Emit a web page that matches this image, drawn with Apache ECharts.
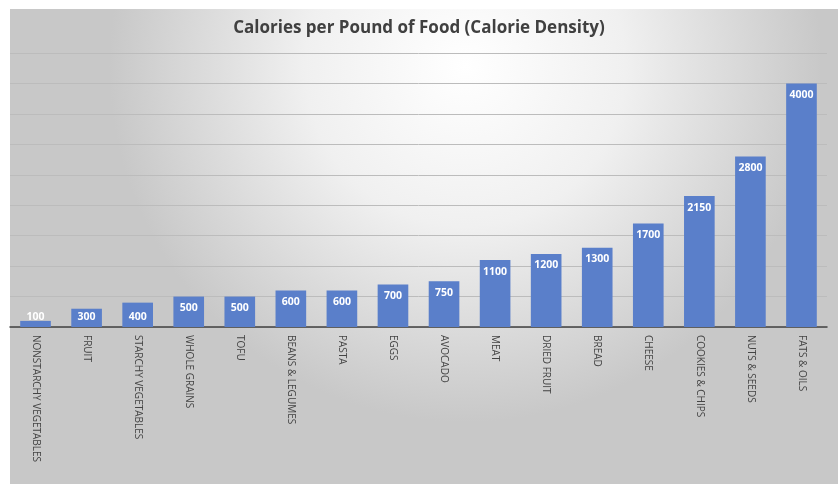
<!DOCTYPE html>
<html>
<head>
<meta charset="utf-8">
<script src="https://cdn.jsdelivr.net/npm/echarts@6/dist/echarts.min.js"></script>
<style>html,body{margin:0;padding:0;background:#fff}#c{width:838px;height:484px}</style>
</head>
<body>
<div id="c"></div>
<script>
const categories = ["NONSTARCHY VEGETABLES","FRUIT","STARCHY VEGETABLES","WHOLE GRAINS","TOFU","BEANS & LEGUMES","PASTA","EGGS","AVOCADO","MEAT","DRIED FRUIT","BREAD","CHEESE","COOKIES & CHIPS","NUTS & SEEDS","FATS & OILS"];
const calories = [100,300,400,500,500,600,600,700,750,1100,1200,1300,1700,2150,2800,4000];
const titleText = "Calories per Pound of Food (Calorie Density)";

const chart = echarts.init(document.getElementById('c'), null, {renderer:'canvas'});
const dataItems = calories.map(v => ({
  value: v,
  label: v < 450 ? {position:'insideBottom', distance:4} : {position:'insideTop', distance:6}
}));
chart.setOption({
  animation:false,
  graphic:[{
    type:'rect', left:10, top:9, z:-10, silent:true,
    shape:{width:828, height:475},
    style:{fill:{type:'radial', x:0.55, y:0.12, r:0.75,
      colorStops:[{offset:0,color:'#ffffff'},{offset:0.45,color:'#f0f0f0'},{offset:1,color:'#c8c8c8'}]}}
  }],
  title:{text:titleText, left:'center', top:15,
    textStyle:{fontFamily:'Open Sans', fontWeight:'bold', fontSize:17, color:'#404040'}},
  grid:{left:10, right:11, top:53, bottom:157, containLabel:false},
  xAxis:{type:'category', data:categories,
    axisLine:{lineStyle:{color:'#404040', width:1.5}},
    axisTick:{show:false},
    axisLabel:{rotate:-90, interval:0, margin:8, fontFamily:'Open Sans', fontSize:10, color:'#444'}},
  yAxis:{type:'value', min:0, max:4500, interval:500,
    axisLabel:{show:false}, axisLine:{show:false}, axisTick:{show:false},
    splitLine:{lineStyle:{color:'#bcbcbc', width:1}}},
  series:[{type:'bar', data:dataItems, barCategoryGap:'40%',
    itemStyle:{color:'#5a7fca'},
    label:{show:true, color:'#fff', fontFamily:'Open Sans', fontWeight:'bold', fontSize:10.5}}]
});
</script>
</body>
</html>
